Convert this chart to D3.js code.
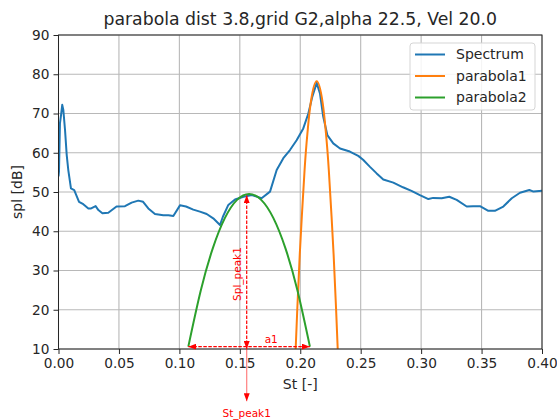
<!DOCTYPE html>
<html>
<head>
<meta charset="utf-8">
<script src="https://cdn.jsdelivr.net/npm/d3@7"></script>
<style>
    body { margin: 0; background: #fff; }
    text { font-family: "DejaVu Sans", sans-serif; fill: #262626; }
</style>
</head>
<body>
<div id="chart"></div>
<script>
// Spectrum (St vs spl)
const spectrumSt = [0.0, 0.0004, 0.0012, 0.0021, 0.0031, 0.0040, 0.0054, 0.0068, 0.0081, 0.0103, 0.013, 0.017,
    0.0205, 0.0247, 0.027, 0.0307, 0.033, 0.0363, 0.0412, 0.048, 0.055, 0.0605, 0.066, 0.070, 0.0743,
    0.0798, 0.0867, 0.091, 0.095, 0.1005, 0.1055, 0.1115, 0.117, 0.1226, 0.128, 0.1336, 0.136, 0.1405,
    0.146, 0.153, 0.160, 0.168, 0.175, 0.1805, 0.186, 0.1915, 0.197, 0.2025, 0.2067, 0.210, 0.2136,
    0.2163, 0.219, 0.2224, 0.2273, 0.2329, 0.241, 0.248, 0.252, 0.2577, 0.263, 0.2687, 0.277, 0.285,
    0.292, 0.299, 0.306, 0.310, 0.317, 0.3233, 0.3294, 0.3377, 0.343, 0.3487, 0.3556, 0.361, 0.368,
    0.375, 0.3818, 0.3895, 0.393, 0.400];
const spectrumSpl = [54.0, 55.2, 67.5, 69.6, 72.2, 70.9, 65.8, 59.4, 55.6, 50.9, 50.5, 47.5,
    46.9, 45.8, 45.8, 46.4, 45.4, 44.6, 44.7, 46.3, 46.4, 47.3, 47.8, 47.5, 45.8,
    44.4, 44.1, 44.1, 43.9, 46.6, 46.3, 45.5, 45.0, 44.4, 43.3, 41.6, 43.7, 46.7,
    48.1, 48.8, 49.2, 48.4, 50.1, 55.6, 58.6, 60.7, 63.2, 66.2, 70.0, 74.3, 77.8,
    75.1, 69.2, 64.5, 62.4, 61.1, 60.3, 59.2, 58.2, 56.4, 54.8, 53.2, 52.4, 51.2,
    50.3, 49.2, 48.2, 48.5, 48.4, 48.8, 48.0, 46.3, 46.4, 46.4, 45.2, 45.2, 46.3,
    48.4, 49.8, 50.5, 50.1, 50.3];

// parabola1 (orange, narrow one around the main peak)
const parabola1St = [0.1962, 0.1976, 0.1996, 0.2036, 0.2061, 0.2086, 0.2136, 0.2186, 0.2211, 0.2236, 0.2276, 0.2296, 0.2310];
const parabola1Spl = [10.0, 20.5, 34.1, 55.7, 65.5, 72.6, 78.2, 72.6, 65.5, 55.7, 34.1, 20.5, 10.0];

// parabola2 (green, wide one)
const parabola2St = [0.1074, 0.1177, 0.1277, 0.1377, 0.1477, 0.1577, 0.1677, 0.1777, 0.1877, 0.1977, 0.2080];
const parabola2Spl = [10.6, 24.9, 35.7, 43.4, 48.0, 49.5, 48.0, 43.4, 35.7, 24.9, 10.6];

// Annotation values
const stPeak1 = 0.1557;
const splPeak1 = 49.2;
const a1Range = [0.1074, 0.2080];
const a1Level = 10.6;

// Axis ticks
const xTicks = [0.00, 0.05, 0.10, 0.15, 0.20, 0.25, 0.30, 0.35, 0.40];
const yTicks = [10, 20, 30, 40, 50, 60, 70, 80, 90];

const seriesNames = ["Spectrum", "parabola1", "parabola2"];
const seriesColors = ["#1f77b4", "#ff7f0e", "#2ca02c"];

const width = 557;
const height = 420;
const margin = { top: 35, right: 15, bottom: 71, left: 58.5 };

const svg = d3.select("#chart")
    .append("svg")
    .attr("width", width)
    .attr("height", height);

const xScale = d3.scaleLinear()
    .domain([0, 0.4])
    .range([margin.left, width - margin.right]);

const yScale = d3.scaleLinear()
    .domain([10, 90])
    .range([height - margin.bottom, margin.top]);

// Arrow heads for the red annotations
const defs = svg.append("defs");
defs.append("marker")
    .attr("id", "head")
    .attr("viewBox", "0 0 8 6")
    .attr("refX", 8)
    .attr("refY", 3)
    .attr("markerWidth", 8)
    .attr("markerHeight", 6)
    .attr("markerUnits", "userSpaceOnUse")
    .attr("orient", "auto-start-reverse")
    .append("path")
    .attr("d", "M0,0 L8,3 L0,6 Z")
    .attr("fill", "red");

defs.append("clipPath")
    .attr("id", "plot-clip")
    .append("rect")
    .attr("x", margin.left)
    .attr("y", margin.top)
    .attr("width", width - margin.left - margin.right)
    .attr("height", height - margin.top - margin.bottom);

// Grid
svg.append("g")
    .selectAll("line")
    .data(xTicks)
    .enter()
    .append("line")
    .attr("x1", d => xScale(d)).attr("x2", d => xScale(d))
    .attr("y1", margin.top).attr("y2", height - margin.bottom)
    .attr("stroke", "#b8b8b8")
    .attr("stroke-width", 1.1);

svg.append("g")
    .selectAll("line")
    .data(yTicks)
    .enter()
    .append("line")
    .attr("x1", margin.left).attr("x2", width - margin.right)
    .attr("y1", d => yScale(d)).attr("y2", d => yScale(d))
    .attr("stroke", "#b8b8b8")
    .attr("stroke-width", 1.1);

// Lines
const line = d3.line()
    .x(d => xScale(d[0]))
    .y(d => yScale(d[1]));

const smooth = d3.line()
    .x(d => xScale(d[0]))
    .y(d => yScale(d[1]))
    .curve(d3.curveNatural);

const plot = svg.append("g").attr("clip-path", "url(#plot-clip)");

plot.append("path")
    .datum(d3.zip(spectrumSt, spectrumSpl))
    .attr("d", line)
    .attr("fill", "none")
    .attr("stroke", seriesColors[0])
    .attr("stroke-width", 2)
    .attr("stroke-linejoin", "round");

plot.append("path")
    .datum(d3.zip(parabola1St, parabola1Spl))
    .attr("d", smooth)
    .attr("fill", "none")
    .attr("stroke", seriesColors[1])
    .attr("stroke-width", 2);

plot.append("path")
    .datum(d3.zip(parabola2St, parabola2Spl))
    .attr("d", smooth)
    .attr("fill", "none")
    .attr("stroke", seriesColors[2])
    .attr("stroke-width", 2);

// Axes
const xAxis = svg.append("g")
    .attr("transform", `translate(0, ${height - margin.bottom})`)
    .call(d3.axisBottom(xScale).tickValues(xTicks).tickFormat(d3.format(".2f")).tickSizeOuter(0).tickSize(5).tickPadding(4));

const yAxis = svg.append("g")
    .attr("transform", `translate(${margin.left}, 0)`)
    .call(d3.axisLeft(yScale).tickValues(yTicks).tickSizeOuter(0).tickSize(5).tickPadding(4));

[xAxis, yAxis].forEach(ax => {
    ax.selectAll("text")
        .style("font-size", "13.7px")
        .style("font-family", "DejaVu Sans, sans-serif")
        .attr("fill", "#262626");
    ax.selectAll("line").attr("stroke", "#262626");
    ax.select(".domain").remove();
});

// Frame
svg.append("rect")
    .attr("x", margin.left)
    .attr("y", margin.top)
    .attr("width", width - margin.left - margin.right)
    .attr("height", height - margin.top - margin.bottom)
    .attr("fill", "none")
    .attr("stroke", "#262626")
    .attr("stroke-width", 1);

// Red annotations
const ann = svg.append("g");

// Spl_peak1: vertical dashed double arrow
ann.append("line")
    .attr("x1", xScale(stPeak1)).attr("x2", xScale(stPeak1))
    .attr("y1", yScale(10)).attr("y2", yScale(splPeak1))
    .attr("stroke", "red")
    .attr("stroke-width", 1.2)
    .attr("stroke-dasharray", "3.5,1.5")
    .attr("marker-start", "url(#head)")
    .attr("marker-end", "url(#head)");

ann.append("text")
    .attr("transform", `translate(${xScale(stPeak1) - 6}, ${yScale(29.1)}) rotate(-90)`)
    .attr("text-anchor", "middle")
    .style("font-size", "10.5px")
    .style("fill", "red")
    .text("Spl_peak1");

// a1: horizontal dashed double arrow
ann.append("line")
    .attr("x1", xScale(a1Range[0])).attr("x2", xScale(a1Range[1]))
    .attr("y1", yScale(a1Level)).attr("y2", yScale(a1Level))
    .attr("stroke", "red")
    .attr("stroke-width", 1.2)
    .attr("stroke-dasharray", "3.5,1.5")
    .attr("marker-start", "url(#head)")
    .attr("marker-end", "url(#head)");

ann.append("text")
    .attr("x", xScale(0.176))
    .attr("y", yScale(11.5))
    .attr("text-anchor", "middle")
    .style("font-size", "10.5px")
    .style("fill", "red")
    .text("a1");

// St_peak1: arrow below the axis
ann.append("line")
    .attr("x1", xScale(stPeak1)).attr("x2", xScale(stPeak1))
    .attr("y1", yScale(10)).attr("y2", yScale(-3.3))
    .attr("stroke", "red")
    .attr("stroke-opacity", 0.5)
    .attr("stroke-width", 1.2)
    .attr("marker-end", "url(#head)");

ann.append("text")
    .attr("x", xScale(stPeak1))
    .attr("y", yScale(-7.3))
    .attr("text-anchor", "middle")
    .style("font-size", "10.5px")
    .style("fill", "red")
    .text("St_peak1");

// Title and axis labels
svg.append("text")
    .attr("x", (margin.left + width - margin.right) / 2)
    .attr("y", 25)
    .attr("text-anchor", "middle")
    .style("font-size", "17.3px")
    .text("parabola dist 3.8,grid G2,alpha 22.5, Vel 20.0");

svg.append("text")
    .attr("x", (margin.left + width - margin.right) / 2)
    .attr("y", 389)
    .attr("text-anchor", "middle")
    .style("font-size", "14px")
    .text("St [-]");

svg.append("text")
    .attr("transform", `translate(21.5, ${(margin.top + height - margin.bottom) / 2}) rotate(-90)`)
    .attr("text-anchor", "middle")
    .style("font-size", "14px")
    .text("spl [dB]");

// Legend
const legend = svg.append("g").attr("transform", "translate(410, 43)");

legend.append("rect")
    .attr("width", 125)
    .attr("height", 67)
    .attr("rx", 3)
    .attr("fill", "#fff")
    .attr("fill-opacity", 0.85)
    .attr("stroke", "#d5d5d5");

seriesNames.forEach((name, i) => {
    const cy = 11.5 + i * 21.5;
    legend.append("line")
        .attr("x1", 5).attr("x2", 35)
        .attr("y1", cy).attr("y2", cy)
        .attr("stroke", seriesColors[i])
        .attr("stroke-width", 2);
    legend.append("text")
        .attr("x", 46)
        .attr("y", cy)
        .attr("dy", "0.35em")
        .style("font-size", "14px")
        .text(name);
});
</script>
</body>
</html>
